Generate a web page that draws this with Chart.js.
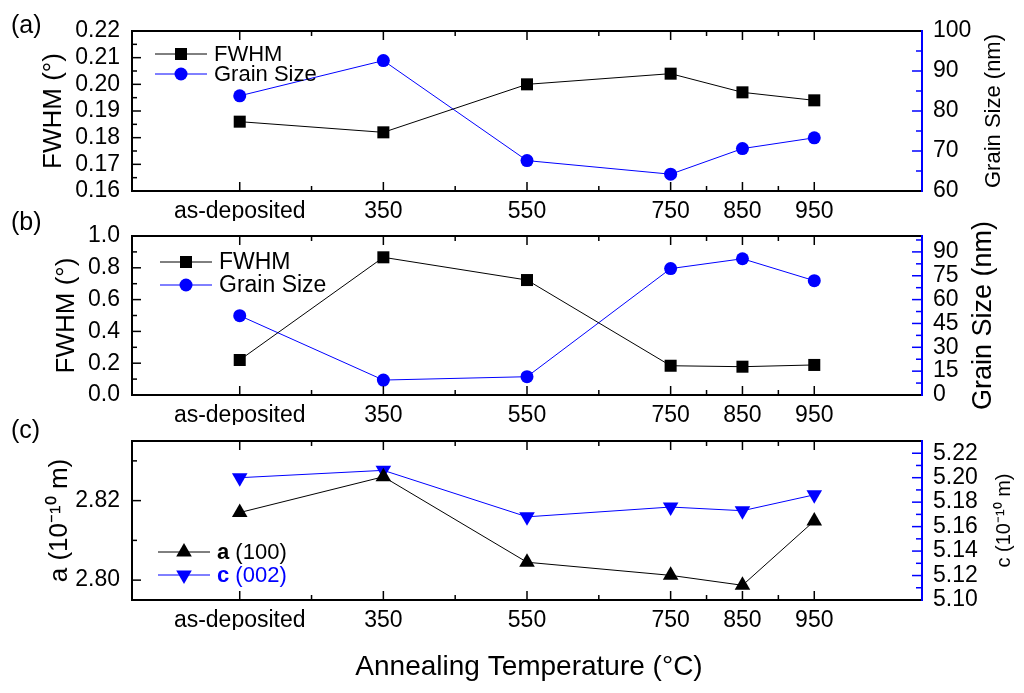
<!DOCTYPE html>
<html>
<head>
<meta charset="utf-8">
<script src="https://cdn.jsdelivr.net/npm/chart.js@4.4.0/dist/chart.umd.min.js"></script>
<style>
  html, body { margin: 0; padding: 0; background: #fff; }
  #wrap { position: relative; width: 1024px; height: 693px; }
  #wrap canvas { position: absolute; left: 0; top: 0; }
</style>
</head>
<body>
<div id="wrap">
  <canvas id="panel-a" width="1024" height="693"></canvas>
  <canvas id="panel-b" width="1024" height="693"></canvas>
  <canvas id="panel-c" width="1024" height="693"></canvas>
</div>
<script>
// x positions (as-deposited sits in its own slot at 150)
const temps = [150, 350, 550, 750, 850, 950];
const tempLabels = ['as-deposited', '350', '550', '750', '850', '950'];
const minorTemps = [250, 450, 650, 800, 900];

// (a)
const fwhmA = [0.186, 0.182, 0.200, 0.204, 0.197, 0.194];
const grainA = [83.8, 92.6, 67.6, 64.2, 70.6, 73.3];
// (b)
const fwhmB = [0.22, 0.866, 0.723, 0.184, 0.178, 0.189];
const grainB = [49.9, 9.4, 11.5, 79.5, 85.7, 71.9];
// (c) lattice constants
const latticeA = [2.817, 2.826, 2.8045, 2.8012, 2.7987, 2.8149];
const latticeC = [5.200, 5.206, 5.168, 5.176, 5.173, 5.186];

const FONT = '"Liberation Sans", Arial, sans-serif';
const BLUE = '#0000ff';
const W = 1024, H = 693;
const AREA_LEFT = 132, AREA_RIGHT = 922, X_BOX = 30;

function stepTicks(start, end, step) {
  const n = Math.round((end - start) / step);
  const out = [];
  for (let i = 0; i <= n; i++) {
    out.push({ value: +(start + i * step).toFixed(6), minor: i % 2 === 1 });
  }
  return out;
}

function xTicks() {
  const t = temps.map(v => ({ value: v, minor: false }));
  minorTemps.forEach(v => t.push({ value: v, minor: true }));
  return t.sort((a, b) => a.value - b.value);
}

function pts(ys) {
  return temps.map((x, i) => ({ x: x, y: ys[i] }));
}

function drawMarker(ctx, style, x, y, color) {
  ctx.save();
  ctx.fillStyle = color;
  ctx.beginPath();
  if (style === 'rect') {
    ctx.rect(x - 6, y - 6, 12, 12);
  } else if (style === 'circle') {
    ctx.arc(x, y, 6.5, 0, Math.PI * 2);
  } else if (style === 'up') {
    ctx.moveTo(x, y - 9); ctx.lineTo(x + 7.8, y + 4.5); ctx.lineTo(x - 7.8, y + 4.5);
  } else {
    ctx.moveTo(x, y + 9); ctx.lineTo(x + 7.8, y - 4.5); ctx.lineTo(x - 7.8, y - 4.5);
  }
  ctx.closePath();
  ctx.fill();
  ctx.restore();
}

function makePanel(id, p) {
  const framePlugin = {
    id: 'frame',
    afterDraw(chart) {
      const ctx = chart.ctx;
      const a = chart.chartArea;
      const sx = chart.scales.x, yl = chart.scales.yl, yr = chart.scales.yr;
      ctx.save();
      // ticks, pointing inwards
      ctx.lineWidth = 1.5;
      ctx.strokeStyle = '#000';
      sx.ticks.forEach(t => {
        const px = sx.getPixelForValue(t.value);
        const len = t.minor ? 5 : 9;
        ctx.beginPath();
        ctx.moveTo(px, a.bottom); ctx.lineTo(px, a.bottom - len);
        ctx.moveTo(px, a.top); ctx.lineTo(px, a.top + len);
        ctx.stroke();
      });
      yl.ticks.forEach(t => {
        const py = yl.getPixelForValue(t.value);
        ctx.beginPath();
        ctx.moveTo(a.left, py); ctx.lineTo(a.left + (t.minor ? 5 : 9), py);
        ctx.stroke();
      });
      ctx.strokeStyle = BLUE;
      yr.ticks.forEach(t => {
        const py = yr.getPixelForValue(t.value);
        ctx.beginPath();
        ctx.moveTo(a.right, py); ctx.lineTo(a.right - (t.minor ? 6 : 10), py);
        ctx.stroke();
      });
      // frame
      ctx.lineWidth = 2;
      ctx.strokeStyle = '#000';
      ctx.beginPath();
      ctx.moveTo(a.right, a.top); ctx.lineTo(a.left, a.top);
      ctx.lineTo(a.left, a.bottom); ctx.lineTo(a.right, a.bottom);
      ctx.stroke();
      ctx.strokeStyle = BLUE;
      ctx.beginPath();
      ctx.moveTo(a.right, a.top - 1); ctx.lineTo(a.right, a.bottom + 1);
      ctx.stroke();

      // panel tag
      ctx.fillStyle = '#000';
      ctx.textBaseline = 'middle';
      ctx.textAlign = 'left';
      ctx.font = '25px ' + FONT;
      ctx.fillText(p.tag, 11, p.tagY);

      // axis titles (both read bottom-to-top)
      const cy = (a.top + a.bottom) / 2;
      ctx.textAlign = 'center';
      [[p.leftTitle, p.leftTitleX, p.leftTitleSize], [p.rightTitle, p.rightTitleX, p.rightTitleSize]].forEach(tt => {
        ctx.save();
        ctx.translate(tt[1], cy);
        ctx.rotate(-Math.PI / 2);
        ctx.font = tt[2] + 'px ' + FONT;
        ctx.fillText(tt[0], 0, 0);
        ctx.restore();
      });
      if (p.xTitle) {
        ctx.font = '28px ' + FONT;
        ctx.fillText(p.xTitle, 529, 667);
      }

      // legend
      p.legend.forEach((e, i) => {
        const ly = p.legendY[i];
        ctx.strokeStyle = e.color;
        ctx.lineWidth = 1;
        ctx.beginPath();
        ctx.moveTo(p.legendX, ly); ctx.lineTo(p.legendX + 52, ly);
        ctx.stroke();
        drawMarker(ctx, e.marker, p.legendX + 26, ly, e.color);
        ctx.textAlign = 'left';
        ctx.fillStyle = e.textColor;
        let tx = p.legendX + 59;
        if (e.bold) {
          ctx.font = 'bold ' + p.legendSize + 'px ' + FONT;
          ctx.fillText(e.bold, tx, ly + 1);
          tx += ctx.measureText(e.bold).width;
        }
        ctx.font = p.legendSize + 'px ' + FONT;
        ctx.fillText(e.text, tx, ly + 1);
      });
      ctx.restore();
    }
  };

  const tickFont = { family: FONT, size: 23 };
  const yScale = (pos, spec, width) => ({
    type: 'linear',
    position: pos,
    min: spec.min,
    max: spec.max,
    grid: { display: false, drawTicks: false },
    border: { display: false },
    afterBuildTicks: s => { s.ticks = spec.ticks.map(t => ({ value: t.value, minor: t.minor })); },
    afterFit: s => { s.width = width; },
    ticks: {
      autoSkip: false,
      color: '#000',
      font: tickFont,
      padding: pos === 'left' ? 12 : 11,
      callback: (v, i, ticks) => ticks[i].minor ? '' : v.toFixed(spec.dec)
    }
  });

  return new Chart(document.getElementById(id), {
    type: 'line',
    data: { datasets: p.datasets },
    options: {
      responsive: false,
      animation: false,
      events: [],
      layout: { padding: { top: p.top, bottom: H - p.bottom - X_BOX, left: 0, right: 0 } },
      plugins: { legend: { display: false }, tooltip: { enabled: false } },
      scales: {
        x: {
          type: 'linear',
          position: 'bottom',
          min: 0,
          max: 1100,
          grid: { display: false, drawTicks: false },
          border: { display: false },
          afterBuildTicks: s => { s.ticks = xTicks(); },
          afterFit: s => { s.height = X_BOX; },
          ticks: {
            autoSkip: false,
            maxRotation: 0,
            minRotation: 0,
            color: '#000',
            font: tickFont,
            padding: 7,
            callback: (v, i, ticks) => ticks[i].minor ? '' : tempLabels[temps.indexOf(v)]
          }
        },
        yl: yScale('left', p.left, AREA_LEFT),
        yr: yScale('right', p.right, W - AREA_RIGHT)
      }
    },
    plugins: [framePlugin]
  });
}

function series(label, ys, axis, color, style, radius, rotation) {
  return {
    label: label,
    data: pts(ys),
    yAxisID: axis,
    borderColor: color,
    borderWidth: 1,
    backgroundColor: color,
    pointStyle: style,
    pointRadius: radius,
    pointRotation: rotation || 0,
    pointBackgroundColor: color,
    pointBorderWidth: 0,
    tension: 0,
    clip: false
  };
}

makePanel('panel-a', {
  top: 31, bottom: 191,
  tag: '(a)', tagY: 26,
  left: { min: 0.16, max: 0.22, dec: 2, ticks: stepTicks(0.16, 0.22, 0.005) },
  right: { min: 60, max: 100, dec: 0, ticks: stepTicks(60, 100, 5) },
  leftTitle: 'FWHM (°)', leftTitleX: 54, leftTitleSize: 26,
  rightTitle: 'Grain Size (nm)', rightTitleX: 994, rightTitleSize: 22,
  legendX: 155, legendY: [54, 74], legendSize: 22,
  legend: [
    { marker: 'rect', color: '#000', textColor: '#000', text: 'FWHM' },
    { marker: 'circle', color: BLUE, textColor: '#000', text: 'Grain Size' }
  ],
  datasets: [
    series('FWHM', fwhmA, 'yl', '#000', 'rect', 8.5),
    series('Grain Size', grainA, 'yr', BLUE, 'circle', 6.5)
  ]
});

makePanel('panel-b', {
  top: 236, bottom: 395,
  tag: '(b)', tagY: 223,
  left: { min: 0, max: 1.0, dec: 1, ticks: stepTicks(0, 1.0, 0.1) },
  right: { min: 0, max: 100, dec: 0, ticks: stepTicks(0, 97.5, 7.5) },
  leftTitle: 'FWHM (°)', leftTitleX: 67, leftTitleSize: 26,
  rightTitle: 'Grain Size (nm)', rightTitleX: 984, rightTitleSize: 27,
  legendX: 160, legendY: [262, 285], legendSize: 23,
  legend: [
    { marker: 'rect', color: '#000', textColor: '#000', text: 'FWHM' },
    { marker: 'circle', color: BLUE, textColor: '#000', text: 'Grain Size' }
  ],
  datasets: [
    series('FWHM', fwhmB, 'yl', '#000', 'rect', 8.5),
    series('Grain Size', grainB, 'yr', BLUE, 'circle', 6.5)
  ]
});

makePanel('panel-c', {
  top: 441, bottom: 600,
  tag: '(c)', tagY: 431,
  left: { min: 2.795, max: 2.835, dec: 2, ticks: stepTicks(2.80, 2.83, 0.01) },
  right: { min: 5.10, max: 5.23, dec: 2, ticks: stepTicks(5.10, 5.23, 0.01) },
  leftTitle: 'a (10⁻¹⁰ m)', leftTitleX: 60, leftTitleSize: 26,
  rightTitle: 'c (10⁻¹⁰ m)', rightTitleX: 1004, rightTitleSize: 20,
  xTitle: 'Annealing Temperature (°C)',
  legendX: 158, legendY: [552, 575], legendSize: 22,
  legend: [
    { marker: 'up', color: '#000', textColor: '#000', bold: 'a', text: ' (100)' },
    { marker: 'down', color: BLUE, textColor: BLUE, bold: 'c', text: ' (002)' }
  ],
  datasets: [
    series('a (100)', latticeA, 'yl', '#000', 'triangle', 9),
    series('c (002)', latticeC, 'yr', BLUE, 'triangle', 9, 180)
  ]
});
</script>
</body>
</html>
